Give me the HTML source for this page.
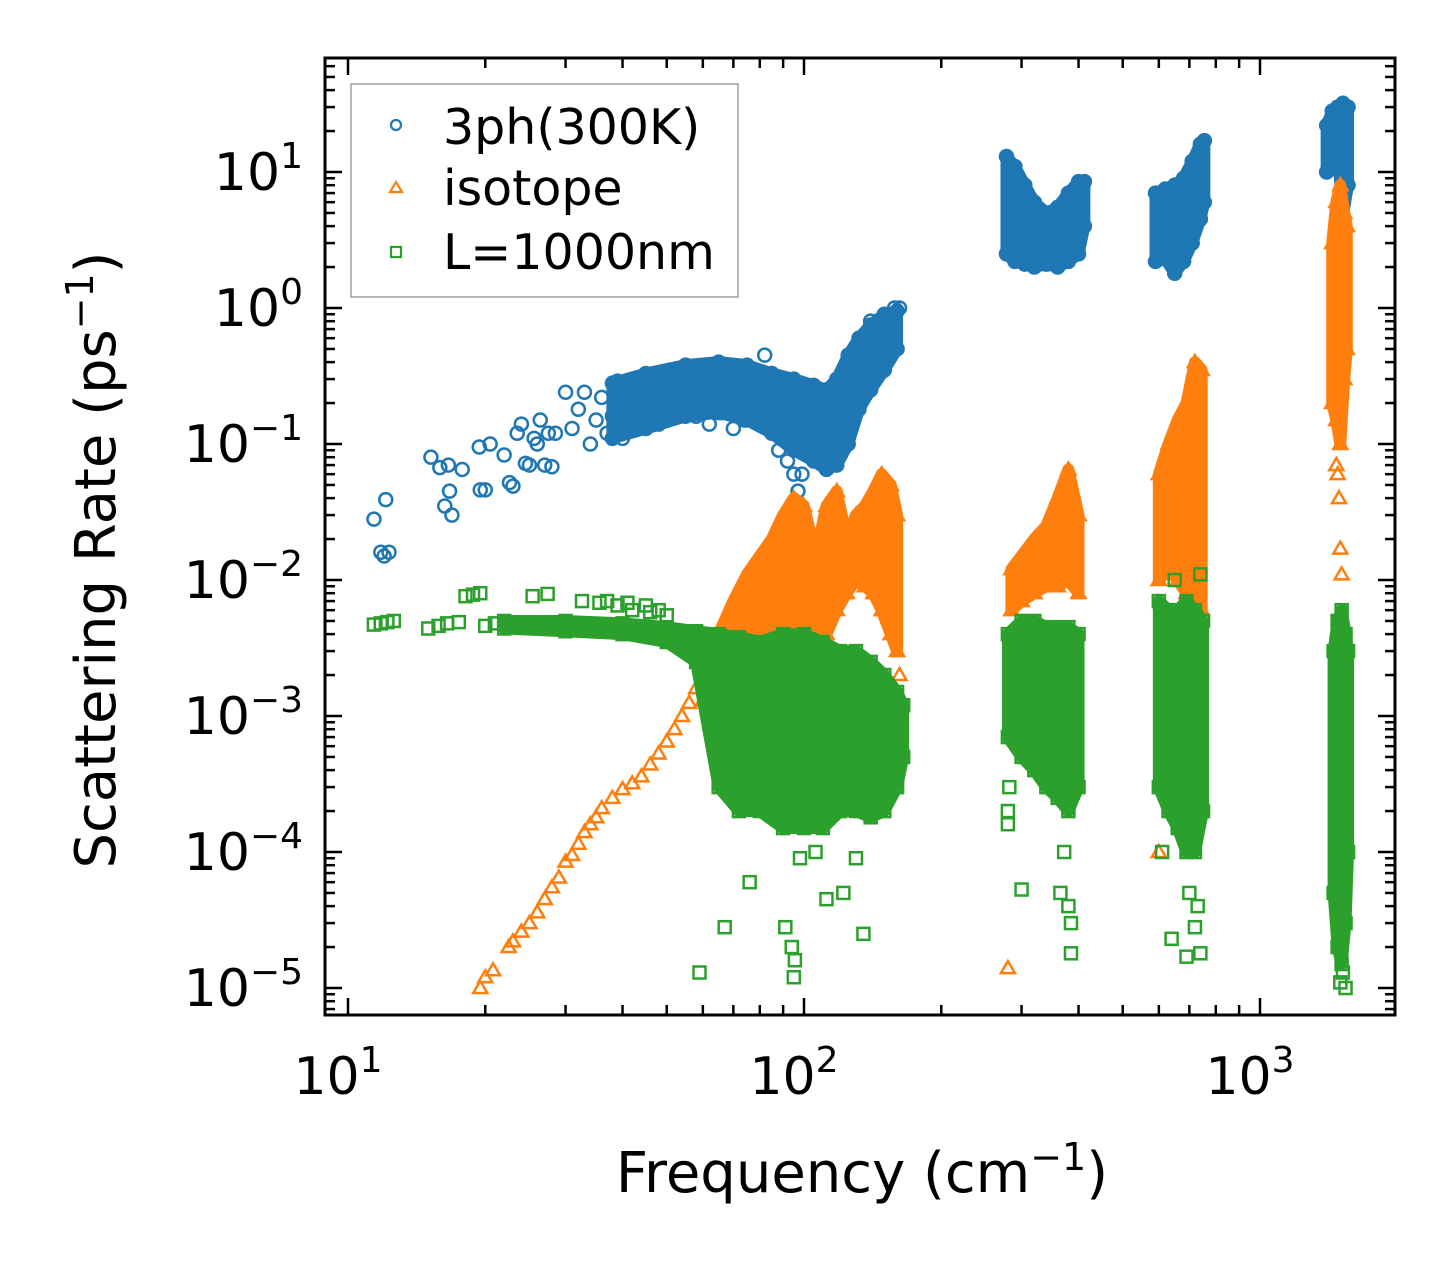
<!DOCTYPE html>
<html><head><meta charset="utf-8"><style>
html,body{margin:0;padding:0;background:#fff;}
svg{display:block;font-family:"DejaVu Sans","Liberation Sans",sans-serif;}
</style></head><body>
<svg id="chart" width="1455" height="1265" viewBox="0 0 1455 1265" xmlns="http://www.w3.org/2000/svg">
<rect width="1455" height="1265" fill="#fff"/>
<g id="marks"></g>
<g id="axes"></g>
<text x="862" y="1192" font-size="56" text-anchor="middle">Frequency (cm<tspan dy="-22" font-size="38">−1</tspan><tspan dy="22">)</tspan></text>
<text transform="translate(115,560) rotate(-90)" font-size="56" text-anchor="middle">Scattering Rate (ps<tspan dy="-22" font-size="38">−1</tspan><tspan dy="22">)</tspan></text>
<g>
<rect x="351" y="84" width="387" height="213" fill="#fff" stroke="#a0a0a0" stroke-width="1.5"/>
<circle cx="396" cy="125" r="5" fill="none" stroke="#1f77b4" stroke-width="2.2"/>
<text x="443" y="144" font-size="49">3ph(300K)</text>
<polygon points="396,182 402,192 390,192" fill="none" stroke="#ff7f0e" stroke-width="2.2"/>
<text x="443" y="205" font-size="49">isotope</text>
<rect x="391" y="247" width="10" height="10" fill="none" stroke="#2ca02c" stroke-width="2.2"/>
<text x="443" y="269" font-size="49">L=1000nm</text>
</g>
</svg>
<script>
// ---- data ----
const xTickValues = [10, 100, 1000];
const xTickExps = ["1", "2", "3"];
const yTickValues = [1e1, 1e0, 1e-1, 1e-2, 1e-3, 1e-4, 1e-5];
const yTickExps = ["1", "0", "−1", "−2", "−3", "−4", "−5"];

// 3ph(300K) dense bands
const ph3BandFreq = [[38,45,55,65,75,85,95,105,112,118,125,132,140,150,160],[278,290,305,320,340,360,380,400,412],[590,620,650,680,710,740,755],[1400,1440,1480,1520,1560]];
const ph3BandHi = [[0.28,0.33,0.38,0.4,0.38,0.33,0.3,0.27,0.25,0.3,0.45,0.6,0.75,0.9,0.95],[13,11,8,6,5,5.5,7,8.5,8.5],[7,7.5,8,9,12,16,17],[22,28,30,32,30]];
const ph3BandLo = [[0.11,0.13,0.16,0.17,0.15,0.12,0.09,0.075,0.065,0.07,0.1,0.18,0.25,0.35,0.5],[2.5,2.2,2.1,2.0,2.1,2.0,2.2,2.5,4],[2.2,2.3,1.8,2.2,3,4.5,6],[10,12,14,4.8,8]];
const ph3Freq = [11.4,11.8,12.0,12.3,12.1,15.2,15.9,16.3,16.6,16.7,16.9,17.8,19.4,19.5,20.0,20.5,22.0,22.6,23.0,23.5,24.0,24.5,25.0,25.6,26.0,26.4,27.0,27.5,28.0,28.5,30,31,32,33,34,35,36,37,38,39,40,41,42,44,46,48,50,52,55,58,62,66,70,74,78,82,88,92,95,97,99,118,125,135,140,145,155,158,162];
const ph3Rate = [0.028,0.016,0.015,0.016,0.039,0.080,0.067,0.035,0.070,0.045,0.030,0.065,0.095,0.046,0.046,0.10,0.083,0.052,0.049,0.12,0.14,0.072,0.07,0.11,0.10,0.15,0.07,0.12,0.068,0.12,0.24,0.13,0.18,0.24,0.10,0.15,0.22,0.12,0.16,0.29,0.11,0.2,0.26,0.15,0.3,0.14,0.31,0.18,0.35,0.16,0.14,0.17,0.13,0.15,0.31,0.45,0.09,0.075,0.06,0.045,0.06,0.21,0.25,0.5,0.8,0.65,0.9,1.0,1.0];

// isotope
const isoBandFreq = [[60,65,70,75,80,85,90,95,100,106,112,118,124,130,136,142,148,155,160],[285,300,320,340,360,380,400],[600,630,660,690,720,745],[1440,1470,1500,1530,1550]];
const isoBandHi = [[0.0025,0.004,0.007,0.011,0.015,0.02,0.03,0.04,0.035,0.015,0.035,0.045,0.02,0.03,0.035,0.045,0.06,0.05,0.03],[0.012,0.015,0.02,0.025,0.04,0.065,0.03],[0.06,0.1,0.15,0.2,0.4,0.35],[3,6,8,5,4]];
const isoBandLo = [[0.0013,0.002,0.0025,0.003,0.0035,0.004,0.0045,0.005,0.004,0.0035,0.004,0.006,0.008,0.01,0.009,0.008,0.006,0.004,0.003],[0.006,0.007,0.008,0.009,0.009,0.01,0.008],[0.01,0.012,0.01,0.008,0.007,0.006],[0.2,0.15,0.1,0.3,0.5]];
const isoFreq = [19.5,20,20.8,22.5,23,24,25,26,27,28,29,30,31,32,33,34,35,36,38,40,42,44,46,48,50,52,54,56,58,60,280,600,1470,1490,1500,1510,1480,160,158,162];
const isoRate = [1.0e-5,1.2e-5,1.35e-5,2.0e-5,2.2e-5,2.6e-5,3.0e-5,3.6e-5,4.5e-5,5.5e-5,6.5e-5,8.5e-5,9.5e-5,1.15e-4,1.4e-4,1.6e-4,1.8e-4,2.1e-4,2.5e-4,2.9e-4,3.2e-4,3.6e-4,4.4e-4,5.3e-4,6.5e-4,8e-4,1e-3,1.25e-3,1.6e-3,2e-3,1.4e-5,1e-4,0.07,0.04,0.017,0.011,0.06,0.0015,0.0009,0.002];

// L=1000nm boundary
const bndBandFreq = [[22,30,40,50,58,65,72,80,90,100,110,120,130,140,150,160,165],[280,300,320,340,360,380,400],[600,630,660,690,720,750],[1450,1480,1510,1540,1560]];
const bndBandHi = [[0.005,0.005,0.0048,0.0045,0.0042,0.004,0.0038,0.0035,0.004,0.004,0.0035,0.003,0.003,0.0025,0.002,0.0015,0.0012],[0.004,0.005,0.005,0.0045,0.0045,0.0045,0.004],[0.007,0.006,0.006,0.007,0.006,0.005],[0.003,0.005,0.006,0.004,0.003]];
const bndBandLo = [[0.0044,0.0042,0.004,0.0035,0.0025,0.0003,0.0002,0.0002,0.00015,0.00015,0.00015,0.0002,0.0002,0.00018,0.0002,0.0003,0.0005],[0.0007,0.0005,0.0004,0.0003,0.00025,0.0002,0.0003],[0.0003,0.0002,0.00015,0.0001,0.0001,0.0002],[0.00005,0.00002,0.000015,0.00003,0.0001]];
const bndFreq = [11.4,11.8,12.2,12.6,15,15.8,16.5,17.5,18.1,18.8,19.5,20,21,25.4,27.4,32.6,35.6,37,39,41,42,45,46,48,50,67,59,76,91,95,95.5,94,98,106,112,122,130,135,280,280,282,300,372,380,385,385,365,640,690,720,740,610,730,700,650,740,1500,1520,1540];
const bndRate = [0.0047,0.0048,0.0049,0.005,0.0044,0.0046,0.0048,0.0049,0.0076,0.0078,0.008,0.0046,0.0048,0.0076,0.0079,0.007,0.0068,0.007,0.0065,0.0068,0.006,0.0065,0.0058,0.006,0.0055,2.8e-5,1.3e-5,6e-5,2.8e-5,1.2e-5,1.6e-5,2e-5,9e-5,1e-4,4.5e-5,5e-5,9e-5,2.5e-5,2e-4,1.6e-4,3e-4,5.3e-5,1e-4,4e-5,3e-5,1.8e-5,5e-5,2.3e-5,1.7e-5,2.8e-5,1.8e-5,1e-4,4e-5,5e-5,0.01,0.011,1.1e-5,1.3e-5,1e-5];

// ---- axes functions ----
const X0 = 348, DX = 456, Y0 = 172, DY = 136;
function xs(f){ return X0 + DX*(Math.log10(f) - 1); }
function ys(v){ return Y0 - DY*(Math.log10(v) - 1); }
const L = 325, R = 1395, T = 58, B = 1015;
const NS = "http://www.w3.org/2000/svg";
const marks = document.getElementById('marks');
const axes = document.getElementById('axes');
function mk(tag, attrs, parent){ const e=document.createElementNS(NS,tag); for(const k in attrs) e.setAttribute(k,attrs[k]); parent.appendChild(e); return e; }

const clip = mk('clipPath',{id:'pc'},marks); mk('rect',{x:L,y:T,width:R-L,height:B-T},clip);
const plot = mk('g',{'clip-path':'url(#pc)'},marks);

function marker(kind, f, v, color, parent){
  const x = xs(f), y = ys(v); let e;
  if(kind==='circle'){ e = mk('circle',{cx:x,cy:y,r:6.5,fill:'none',stroke:color,'stroke-width':2.5},parent); }
  else if(kind==='tri'){ e = mk('polygon',{points:`${x},${y-7} ${x+7},${y+5} ${x-7},${y+5}`,fill:'none',stroke:color,'stroke-width':2.5},parent); }
  else { e = mk('rect',{x:x-6,y:y-6,width:12,height:12,fill:'none',stroke:color,'stroke-width':2.5},parent); }
  return e;
}
function drawSeries(name, kind, color, bf, bh, bl, pf, pv){
  const g = mk('g',{},plot);
  
  
  bf.forEach((fs, i) => {
    const pts = [];
    fs.forEach((f, j) => pts.push(xs(f)+','+ys(bh[i][j])));
    for(let j=fs.length-1;j>=0;j--) pts.push(xs(fs[j])+','+ys(bl[i][j]));
    const p = mk('polygon',{points:pts.join(' '),fill:color,stroke:color,'stroke-width':12,'stroke-linejoin':'round'},g);
    
    
    fs.forEach((f, j) => {
      const a = marker(kind, f, bh[i][j], color, g);
      
      
      const b = marker(kind, f, bl[i][j], color, g);
      
      
    });
  });
  pf.forEach((f, i) => {
    const m = marker(kind, f, pv[i], color, g);
    
    
  });
}
drawSeries('3ph', 'circle', '#1f77b4', ph3BandFreq, ph3BandHi, ph3BandLo, ph3Freq, ph3Rate);
drawSeries('isotope', 'tri', '#ff7f0e', isoBandFreq, isoBandHi, isoBandLo, isoFreq, isoRate);
drawSeries('boundary', 'square', '#2ca02c', bndBandFreq, bndBandHi, bndBandLo, bndFreq, bndRate);

// ticks
for(let d=1; d<=3; d++){
  for(let m=1; m<=9; m++){
    const f = m*Math.pow(10,d); const x = xs(f);
    if(x<L||x>R) continue;
    const len = m===1?17:10;
    mk('line',{x1:x,y1:B,x2:x,y2:B-len,stroke:'#000','stroke-width':2.5},axes);
    mk('line',{x1:x,y1:T,x2:x,y2:T+len,stroke:'#000','stroke-width':2.5},axes);
  }
}
for(let d=-6; d<=1; d++){
  for(let m=1; m<=9; m++){
    const v = m*Math.pow(10,d); const y = ys(v);
    if(y<T||y>B) continue;
    const len = m===1?17:10;
    mk('line',{x1:L,y1:y,x2:L+len,y2:y,stroke:'#000','stroke-width':2.5},axes);
    mk('line',{x1:R,y1:y,x2:R-len,y2:y,stroke:'#000','stroke-width':2.5},axes);
  }
}
mk('rect',{x:L,y:T,width:R-L,height:B-T,fill:'none',stroke:'#000','stroke-width':3},axes);
xTickValues.forEach((v,i)=>{
  const t = mk('text',{x:xs(v)-10,y:1094,'font-size':52,'text-anchor':'middle'},axes);
  
  
  t.textContent='10';
  const s = mk('tspan',{dy:-22,'font-size':36},t); s.textContent=xTickExps[i];
});
yTickValues.forEach((v,i)=>{
  const t = mk('text',{x:303,y:ys(v)+18,'font-size':52,'text-anchor':'end'},axes);
  
  
  t.textContent='10';
  const s = mk('tspan',{dy:-22,'font-size':36},t); s.textContent=yTickExps[i];
});
</script>
</body></html>
